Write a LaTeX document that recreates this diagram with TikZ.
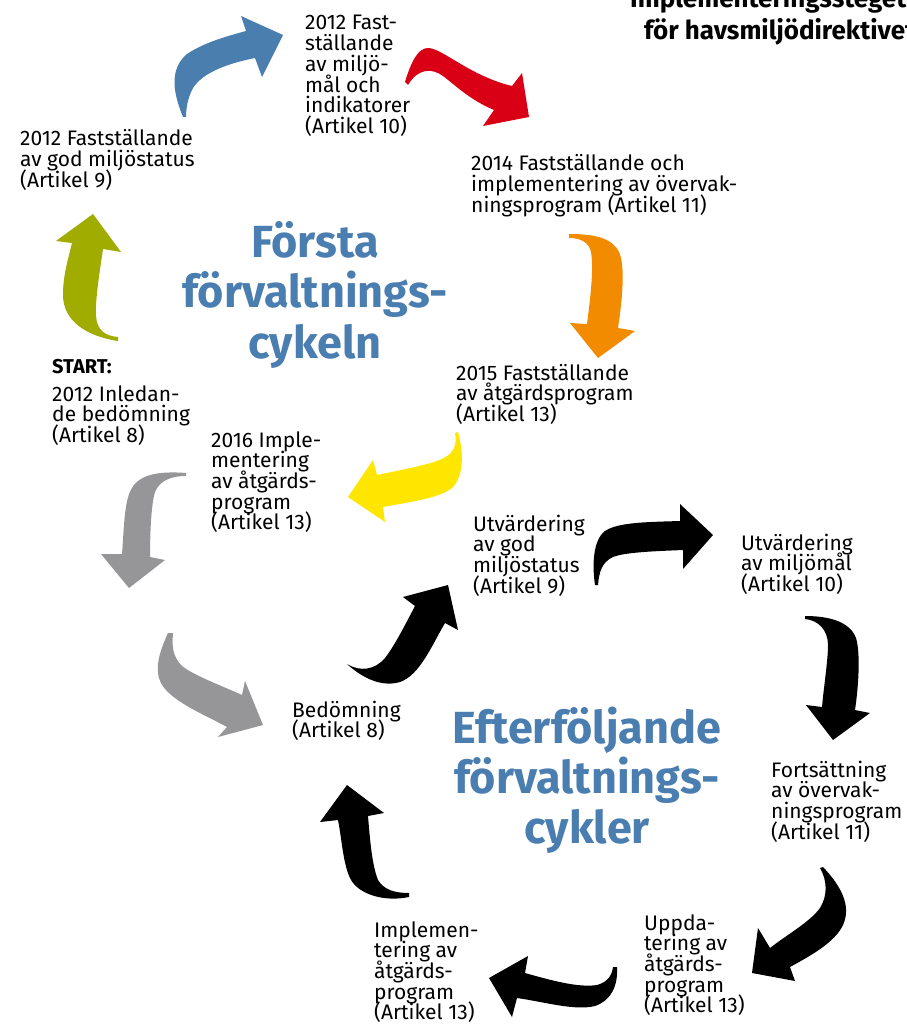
\documentclass[tikz,border=0pt]{standalone}
\usepackage{fontspec}
\setmainfont{Fira Sans}
\definecolor{cblue}{RGB}{74,126,175}
\definecolor{cred}{RGB}{217,0,22}
\definecolor{cgreen}{RGB}{160,172,0}
\definecolor{corange}{RGB}{242,139,0}
\definecolor{cyellow}{RGB}{255,230,0}
\definecolor{cgray}{RGB}{150,150,152}
\definecolor{ctitle}{RGB}{74,125,176}
\newcommand\txtl[1]{\vtop{\lineskiplimit=-100pt\lineskip=0pt\halign{##\hfil\cr#1\crcr}}}
\newcommand\txtc[1]{\vtop{\lineskiplimit=-100pt\lineskip=0pt\halign{\hfil##\hfil\cr#1\crcr}}}
\begin{document}
\begin{tikzpicture}[x=1pt,y=-1pt,
  lbl/.style={anchor=base west, inner sep=0pt, font=\fontsize{21}{20.7}\selectfont},
  ttl/.style={anchor=base, inner sep=0pt, text=ctitle, font=\fontsize{45}{50}\selectfont\bfseries},
  hdr/.style={anchor=base west, inner sep=0pt, font=\fontsize{26}{32}\selectfont\bfseries}]
\useasboundingbox (0,0) rectangle (906,1024);
\fill[white] (0,0) rectangle (906,1024);

% header (cut off by the page edge, as in the reference)
\node[hdr] (hdr) at (630,8) {\txtl{Implementeringssteget\cr\hspace*{14pt}för havsmiljödirektivet}};

% titles
\node[ttl] (t1) at (315,258) {\txtc{Första\cr förvaltnings-\cr cykeln}};
\node[ttl] (t2) at (587,743) {\txtc{Efterföljande\cr förvaltnings-\cr cykler}};

% labels
\node[lbl] (a10) at (305,30) {\txtl{2012 Fast-\cr ställande\cr av miljö-\cr mål och\cr indikatorer\cr (Artikel 10)}};
\node[lbl] (a9) at (20,146) {\txtl{2012 Fastställande\cr av god miljöstatus\cr (Artikel 9)}};
\node[lbl] (a11) at (471,171) {\txtl{2014 Fastställande och\cr implementering av övervak-\cr ningsprogram (Artikel 11)}};
\node[lbl, font=\fontsize{20}{20.7}\selectfont\bfseries] (start) at (52,373) {START:};
\node[lbl] (a8) at (52,401) {\txtl{2012 Inledan-\cr de bedömning\cr (Artikel 8)}};
\node[lbl] (a13) at (456,380) {\txtl{2015 Fastställande\cr av åtgärdsprogram\cr (Artikel 13)}};
\node[lbl] (a13b) at (211,447) {\txtl{2016 Imple-\cr mentering\cr av åtgärds-\cr program\cr (Artikel 13)}};
\node[lbl] (u9) at (473,531) {\txtl{Utvärdering\cr av god\cr miljöstatus\cr (Artikel 9)}};
\node[lbl] (u10) at (741,550) {\txtl{Utvärdering\cr av miljömål\cr (Artikel 10)}};
\node[lbl] (b8) at (292,717) {\txtl{Bedömning\cr (Artikel 8)}};
\node[lbl] (f11) at (771,777) {\txtl{Fortsättning\cr av övervak-\cr ningsprogram\cr (Artikel 11)}};
\node[lbl] (i13) at (374,937) {\txtl{Implemen-\cr tering av\cr åtgärds-\cr program\cr (Artikel 13)}};
\node[lbl] (p13) at (644,930) {\txtl{Uppda-\cr tering av\cr åtgärds-\cr program\cr (Artikel 13)}};

% first cycle arrows
\fill[cblue] (183,117) .. controls (174,95) and (168,70) .. (187,54) .. controls (205,42) and (228,36) .. (246,31) -- (241,16) -- (283,35) -- (262,77) -- (255,58) .. controls (225,64) and (200,74) .. (192,90) .. controls (188,98) and (186,108) .. (186,117) -- cycle;
\fill[cred] (405,82) .. controls (411,62) and (418,48) .. (428,48) .. controls (442,48) and (470,76) .. (512,86) -- (522,73) -- (529,117) -- (483,126) -- (494,110) .. controls (470,100) and (455,85) .. (443,76) .. controls (432,68) and (418,68) .. (408,85) -- cycle;
\fill[cgreen] (118,341) .. controls (85,336) and (63,320) .. (63,295) .. controls (63,275) and (68,260) .. (72,243) -- (56,241) -- (93,214) -- (121,252) -- (103,249) .. controls (100,270) and (95,300) .. (96,316) .. controls (97,330) and (105,336) .. (118,337) -- cycle;
\fill[corange] (569,234) .. controls (595,234) and (612,238) .. (619,252) .. controls (625,265) and (623,295) .. (618,328) -- (635,331) -- (598,358) -- (570,323) -- (587,324) .. controls (590,300) and (594,270) .. (591,252) .. controls (589,242) and (580,238) .. (569,238) -- cycle;
\fill[cyellow] (458,432) .. controls (463,450) and (465,475) .. (452,488) .. controls (440,498) and (410,502) .. (383,507) -- (385,522) -- (348,497) -- (373,460) -- (377,475) .. controls (400,470) and (430,465) .. (444,458) .. controls (455,452) and (457,443) .. (455,433) -- cycle;
\fill[cgray] (186,473) .. controls (160,471) and (140,474) .. (132,488) .. controls (124,500) and (124,530) .. (122,554) -- (101,554) -- (129,588) -- (165,560) -- (150,557) .. controls (150,535) and (151,505) .. (155,492) .. controls (160,480) and (172,476) .. (186,476) -- cycle;
\fill[cgray] (168,633) .. controls (158,655) and (152,675) .. (166,690) .. controls (180,705) and (205,715) .. (227,727) -- (218,737) -- (263,725) -- (245,681) -- (242,695) .. controls (220,685) and (195,676) .. (182,666) .. controls (172,656) and (172,645) .. (173,633) -- cycle;

% following cycles arrows
\fill[black] (347,664) .. controls (360,676) and (380,688) .. (400,682) .. controls (420,675) and (432,645) .. (445,623) -- (458,630) -- (448,585) -- (403,597) -- (415,606) .. controls (405,625) and (395,645) .. (385,658) .. controls (375,670) and (360,672) .. (347,664) -- cycle;
\fill[black] (595,585) .. controls (592,565) and (593,540) .. (605,531) .. controls (618,522) and (650,522) .. (680,521) -- (680,504) -- (713,535) -- (683,569) -- (683,550) .. controls (660,551) and (625,552) .. (613,557) .. controls (602,562) and (599,572) .. (598,585) -- cycle;
\fill[black] (805,616) .. controls (830,616) and (850,622) .. (856,638) .. controls (861,655) and (858,690) .. (855,710) -- (870,713) -- (833,740) -- (806,705) -- (822,707) .. controls (824,685) and (828,660) .. (828,645) .. controls (828,630) and (818,620) .. (805,619) -- cycle;
\fill[black] (823,867) .. controls (840,885) and (852,905) .. (843,925) .. controls (835,942) and (812,955) .. (790,967) -- (795,981) -- (752,973) -- (758,928) -- (770,948) .. controls (785,936) and (810,922) .. (820,908) .. controls (828,895) and (827,880) .. (820,868) -- cycle;
\fill[black] (617,967) .. controls (618,985) and (612,1000) .. (595,1006) .. controls (575,1011) and (545,1002) .. (517,998) -- (512,1017) -- (489,978) -- (528,956) -- (525,973) .. controls (550,980) and (578,988) .. (597,985) .. controls (608,982) and (612,975) .. (613,967) -- cycle;
\fill[black] (409,897) .. controls (385,902) and (360,895) .. (351,880) .. controls (343,865) and (342,840) .. (338,820) -- (320,822) -- (347,785) -- (384,813) -- (368,816) .. controls (370,840) and (372,865) .. (378,880) .. controls (384,890) and (395,893) .. (409,893) -- cycle;
\end{tikzpicture}
\end{document}
